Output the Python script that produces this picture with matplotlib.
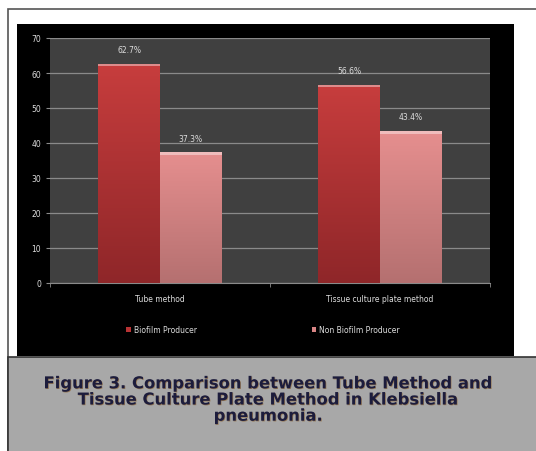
import matplotlib
matplotlib.use("Agg")
import matplotlib.pyplot as plt
import matplotlib.patheffects as pe
import numpy as np
from matplotlib.patches import Rectangle

categories = ["Tube method", "Tissue culture plate method"]
biofilm = [62.7, 56.6]
non_biofilm = [37.3, 43.4]
series_names = ["Biofilm Producer", "Non Biofilm Producer"]
yticks = [0, 10, 20, 30, 40, 50, 60, 70]

W, H = 536, 452
fig = plt.figure(figsize=(W / 100, H / 100), dpi=100)
fig.patch.set_facecolor("white")

def px_rect(x0, y0, x1, y1, **kw):
    # pixel box (top-left origin) -> figure fraction rectangle
    r = Rectangle((x0 / W, 1 - y1 / H), (x1 - x0) / W, (y1 - y0) / H,
                  transform=fig.transFigure, zorder=-5, **kw)
    fig.patches.append(r)
    return r

# outer frame, black chart area, caption box
px_rect(8, 10, 537, 453, facecolor="white", edgecolor="#555555", lw=1.2)
px_rect(17, 25, 514, 357, facecolor="black", edgecolor="none")
px_rect(8, 358, 537, 453, facecolor="#a8a8a8", edgecolor="#333333", lw=1.2)

ax = fig.add_axes([50 / W, 1 - 284 / H, 440 / W, (284 - 39) / H])
ax.set_facecolor("#404040")

x = np.arange(len(categories))
width = 0.28
c1_top, c1_bot = np.array([0.78, 0.24, 0.24]), np.array([0.56, 0.15, 0.16])
c2_top, c2_bot = np.array([0.90, 0.56, 0.56]), np.array([0.71, 0.44, 0.44])

rects1 = ax.bar(x - width / 2, biofilm, width, color="#b83334", label=series_names[0], zorder=3)
rects2 = ax.bar(x + width / 2, non_biofilm, width, color="#d98585", label=series_names[1], zorder=3)

# vertical gradient inside each bar
for rects, top, bot in [(rects1, c1_top, c1_bot), (rects2, c2_top, c2_bot)]:
    for r in rects:
        bx, by, bw, bh = r.get_x(), r.get_y(), r.get_width(), r.get_height()
        t = np.linspace(0, 1, 100)[:, None]
        img = (bot * (1 - t) + top * t)[:, None, :].repeat(2, axis=1)
        im = ax.imshow(img, extent=[bx, bx + bw, by, by + bh], origin="lower",
                       aspect="auto", zorder=4)
        im.set_clip_path(r)
        cap = top * 0.6 + 0.4
        ax.add_patch(Rectangle((bx, by + bh - 0.7), bw, 0.7, color=cap, zorder=5, lw=0))

ax.set_xlim(-0.5, 1.5)
ax.set_ylim(0, 70)
ax.set_yticks(yticks)
ax.set_xticks(x, categories)
ax.set_xticks([-0.5, 0.5, 1.5], minor=True)
ax.grid(axis="y", color="#8a8a8a", lw=0.9, zorder=1)
for s in ["top", "right", "left"]:
    ax.spines[s].set_visible(False)
ax.spines["bottom"].set_color("#8a8a8a")
ax.tick_params(axis="y", colors="#8a8a8a", labelcolor="#dddddd", labelsize=5.5, length=3)
ax.tick_params(axis="x", length=0, labelcolor="#dddddd", labelsize=5.5, pad=8)
ax.tick_params(axis="x", which="minor", length=3, color="#8a8a8a")

ax.bar_label(rects1, labels=[f"{v}%" for v in biofilm], padding=7, color="#dddddd", fontsize=5.5)
ax.bar_label(rects2, labels=[f"{v}%" for v in non_biofilm], padding=7, color="#dddddd", fontsize=5.5)

leg = fig.legend(handles=[rects1, rects2], loc="center", bbox_to_anchor=(0.491, 1 - 331 / H),
                 ncol=2, frameon=False, fontsize=5.5, labelcolor="#dddddd",
                 handlelength=0.6, handleheight=0.6, handletextpad=0.4, columnspacing=15)

caption = ("Figure 3. Comparison between Tube Method and\n"
           "Tissue Culture Plate Method in Klebsiella\npneumonia.")
fig.text(0.5, 1 - 401 / H, caption, ha="center", va="center", fontsize=11.8,
         fontweight="bold", color="#1c1c3c", linespacing=1.1, family="DejaVu Sans",
         path_effects=[pe.withSimplePatchShadow(offset=(0.5, -0.5), shadow_rgbFace="#8a5a20", alpha=0.6)])

fig.savefig("out.png", dpi=100, facecolor=fig.get_facecolor())
